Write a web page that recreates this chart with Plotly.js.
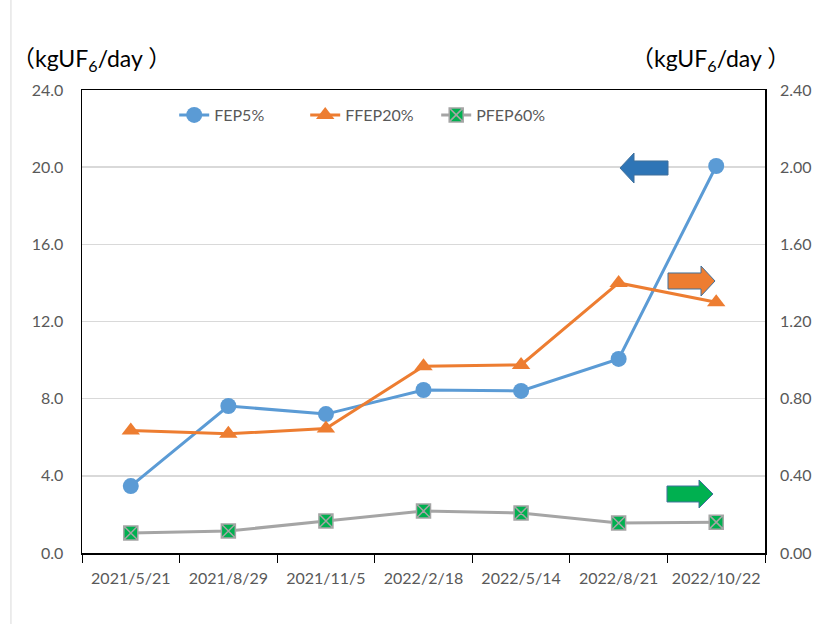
<!DOCTYPE html>
<html>
<head>
<meta charset="utf-8">
<script src="https://cdn.plot.ly/plotly-3.0.1.min.js"></script>
<style>html,body{margin:0;padding:0;background:#fff;}#chart{width:819px;height:624px;}</style>
</head>
<body>
<div id="chart"></div>
<script>
const categories = ["2021/5/21","2021/8/29","2021/11/5","2022/2/18","2022/5/14","2022/8/21","2022/10/22"];
const fep5 = [3.47, 7.62, 7.2, 8.45, 8.4, 10.06, 20.06];
const ffep20 = [0.635, 0.618, 0.645, 0.968, 0.975, 1.40, 1.30];
const pfep60 = [0.104, 0.114, 0.166, 0.218, 0.207, 0.156, 0.16];
const leftTicks = [0, 4, 8, 12, 16, 20, 24];
const rightTicks = [0, 0.4, 0.8, 1.2, 1.6, 2.0, 2.4];

const FONT = "Lato, 'Noto Sans CJK JP', sans-serif";
const W = 819, H = 624, L = 82, R = 54, T = 90, B = 71;
const pw = W - L - R, ph = H - T - B;
function px(x){ return ((x - L) / pw).toFixed(4); }
function py(y){ return ((H - B - y) / ph).toFixed(4); }
function arrowRight(x0, x1, xh, yc, sh, hh){
  return `M${px(x0)},${py(yc-sh)} L${px(xh)},${py(yc-sh)} L${px(xh)},${py(yc-hh)} L${px(x1)},${py(yc)} L${px(xh)},${py(yc+hh)} L${px(xh)},${py(yc+sh)} L${px(x0)},${py(yc+sh)} Z`;
}
function arrowLeft(x0, x1, xh, yc, sh, hh){
  return `M${px(x1)},${py(yc-sh)} L${px(xh)},${py(yc-sh)} L${px(xh)},${py(yc-hh)} L${px(x0)},${py(yc)} L${px(xh)},${py(yc+hh)} L${px(xh)},${py(yc+sh)} L${px(x1)},${py(yc+sh)} Z`;
}

const traces = [
  {x: categories, y: fep5, name: "FEP5%", type: "scatter", mode: "lines+markers", yaxis: "y",
   line: {color: "#5B9BD5", width: 3}, marker: {symbol: "circle", size: 16, color: "#5B9BD5"}},
  {x: categories, y: ffep20, name: "FFEP20%", type: "scatter", mode: "lines+markers", yaxis: "y2",
   line: {color: "#ED7D31", width: 3}, marker: {symbol: "triangle-up", size: 16, color: "#ED7D31"}},
  {x: categories, y: pfep60, name: "PFEP60%", type: "scatter", mode: "lines+markers", yaxis: "y2",
   line: {color: "#A5A5A5", width: 3}, marker: {symbol: "square-x", size: 14, color: "#00B050", line: {color: "#A5A5A5", width: 1.5}}}
];

const layout = {
  width: W, height: H,
  margin: {l: L, r: R, t: T, b: B},
  paper_bgcolor: "#fff", plot_bgcolor: "#fff",
  font: {family: FONT, size: 16, color: "#595959"},
  showlegend: true,
  legend: {orientation: "h", x: 0.135, xanchor: "left", y: 0.946, yanchor: "middle", entrywidth: 86,
           font: {family: FONT, size: 16, color: "#595959"}, bgcolor: "rgba(0,0,0,0)", traceorder: "normal"},
  xaxis: {type: "category", range: [-0.5, 6.5], autorange: false, tickson: "boundaries", ticks: "outside", ticklen: 8, tickcolor: "#000",
          showline: true, linecolor: "#000", linewidth: 1.5, mirror: true, showgrid: false, tickangle: 0,
          tickfont: {family: FONT, size: 16, color: "#595959"}, ticklabelstandoff: 10},
  yaxis: {range: [0, 24], tickvals: leftTicks, tickformat: ".1f", showgrid: true, gridcolor: "#D9D9D9", gridwidth: 1.5,
          showline: true, linecolor: "#000", linewidth: 1.5, mirror: true, zeroline: false, ticks: "",
          tickfont: {family: FONT, size: 16, color: "#595959"}, ticklabelstandoff: 14},
  yaxis2: {range: [0, 2.4], tickvals: rightTicks, tickformat: ".2f", overlaying: "y", side: "right", showgrid: false,
           zeroline: false, ticks: "", showline: false,
           tickfont: {family: FONT, size: 16, color: "#595959"}, ticklabelstandoff: 14},
  annotations: [
    {xref: "paper", yref: "paper", x: px(91), y: py(60), xanchor: "center", yanchor: "middle", showarrow: false,
     text: "（kgUF<sub>6</sub>/day ）", font: {family: FONT, size: 23, color: "#000"}},
    {xref: "paper", yref: "paper", x: px(711), y: py(60), xanchor: "center", yanchor: "middle", showarrow: false,
     text: "（kgUF<sub>6</sub>/day ）", font: {family: FONT, size: 23, color: "#000"}}
  ],
  shapes: [
    {type: "line", xref: "paper", yref: "paper", x0: px(11), x1: px(11), y0: py(0), y1: py(624), line: {color: "#D9D9D9", width: 1}},
    {type: "path", xref: "paper", yref: "paper", path: arrowLeft(620, 668, 634, 168, 7, 15), fillcolor: "#2E75B6", line: {color: "#41719C", width: 1}},
    {type: "path", xref: "paper", yref: "paper", path: arrowRight(668, 715, 701, 281, 8, 15), fillcolor: "#ED7D31", line: {color: "#41719C", width: 1}},
    {type: "path", xref: "paper", yref: "paper", path: arrowRight(667, 713, 699, 494, 8, 14), fillcolor: "#00B050", line: {color: "#41719C", width: 1}}
  ]
};

Plotly.newPlot("chart", traces, layout, {displayModeBar: false, staticPlot: true});
</script>
</body>
</html>
